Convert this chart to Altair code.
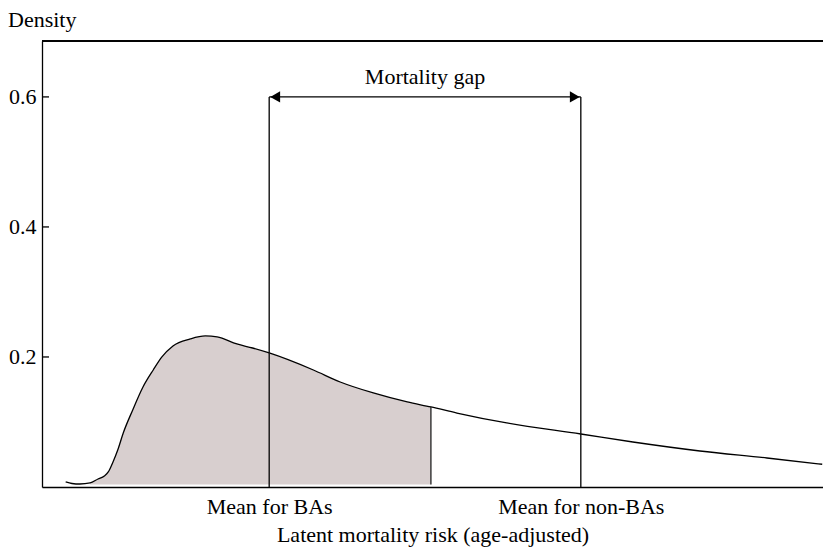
import altair as alt
import pandas as pd

# Density curve (arbitrary x units across the plot)
curve_x = [0.30, 0.38, 0.48, 0.61, 0.71, 0.79, 0.84, 0.90, 0.96, 1.03, 1.15, 1.28,
           1.41, 1.52, 1.66, 1.88, 2.07, 2.22, 2.47, 2.67, 2.88, 3.44, 3.78, 4.20,
           4.63, 4.93, 5.26, 5.89, 6.83, 7.49, 8.34, 9.19, 9.89]
curve_y = [0.0077, 0.0054, 0.0046, 0.0062, 0.0123, 0.0169, 0.0231, 0.0385, 0.0569,
           0.0831, 0.1185, 0.1538, 0.180, 0.200, 0.2169, 0.2277, 0.2323, 0.2308,
           0.220, 0.2138, 0.2062, 0.180, 0.1615, 0.1446, 0.1308, 0.1231, 0.1138,
           0.0985, 0.0815, 0.0692, 0.0554, 0.0446, 0.0350]

shade_start = 0.61
shade_end = 4.93
shade_base = 0.004

ba_mean = 2.88
nonba_mean = 6.83
gap_level = 0.6
mean_labels = ["Mean for BAs", "Mean for non-BAs"]
gap_label = "Mortality gap"
y_ticks = [0.2, 0.4, 0.6]
y_title = "Density"
x_title = "Latent mortality risk (age-adjusted)"

FONT = "Liberation Serif"
FS = 22
INK = "#000000"

W, H = 781, 446

curve = pd.DataFrame({"x": curve_x, "y": curve_y})
shade = curve[(curve.x >= shade_start) & (curve.x <= shade_end)].copy()
shade["base"] = shade_base
edge = pd.DataFrame({"x": [shade_end], "y": [shade_base],
                     "y2": [curve_y[curve_x.index(shade_end)]]})
means = pd.DataFrame({"x": [ba_mean, nonba_mean], "label": mean_labels,
                      "y0": [0.0, 0.0], "y1": [gap_level, gap_level]})
gap = pd.DataFrame({"x": [ba_mean], "x2": [nonba_mean], "y": [gap_level],
                    "xm": [(ba_mean + nonba_mean) / 2], "ty": [0.631],
                    "label": [gap_label]})
ticks = pd.DataFrame({"y": y_ticks})

xs = alt.Scale(domain=[0, 9.9], nice=False, zero=False)
ys = alt.Scale(domain=[0, 0.686], nice=False, zero=False)

label_expr = f"datum.value < 5 ? '{mean_labels[0]}' : '{mean_labels[1]}'"

AX = alt.Axis(
    values=[ba_mean, nonba_mean], labelExpr=label_expr, ticks=False,
    grid=False, labelPadding=9, labelFont=FONT, labelFontSize=FS,
    labelColor=INK, title=x_title, titleFont=FONT, titleFontSize=FS,
    titleFontWeight="normal", titleColor=INK, titlePadding=7,
    domainColor=INK, domainWidth=1.3, labelFlush=False)
AY = alt.Axis(
    values=y_ticks, ticks=False, grid=False, labelPadding=6,
    labelFont=FONT, labelFontSize=FS, labelColor=INK, title=None,
    domainColor=INK, domainWidth=1.3, labelFlush=False,
    labelExpr="format(datum.value, '.1f')")


def X(f):
    return alt.X(f, scale=xs, axis=AX, title=x_title)


def Y(f):
    return alt.Y(f, scale=ys, axis=AY, title=None)


area = alt.Chart(shade).mark_area(color="#d8cfcf", interpolate="monotone").encode(
    x=X("x:Q"), y=Y("y:Q"), y2="base:Q",
)

line = alt.Chart(curve).mark_line(color=INK, strokeWidth=1.3,
                                  interpolate="monotone").encode(
    x=X("x:Q"), y=Y("y:Q"),
)

edge_rule = alt.Chart(edge).mark_rule(color="#222222", strokeWidth=1.3).encode(
    x=X("x:Q"), y=Y("y:Q"), y2="y2:Q",
)

mean_rules = alt.Chart(means).mark_rule(color="#111111", strokeWidth=1.4).encode(
    x=X("x:Q"), y=Y("y0:Q"), y2="y1:Q",
)

gap_rule = alt.Chart(gap).mark_rule(color=INK, strokeWidth=1.3).encode(
    x=X("x:Q"), x2="x2:Q", y=Y("y:Q"),
)

head_l = alt.Chart(gap).mark_point(shape="triangle-left", filled=True, color=INK,
                                   size=130, opacity=1, xOffset=6).encode(
    x=X("x:Q"), y=Y("y:Q"),
)
head_r = alt.Chart(gap).mark_point(shape="triangle-right", filled=True, color=INK,
                                   size=130, opacity=1, xOffset=-6).encode(
    x=X("x2:Q"), y=Y("y:Q"),
)

gap_text = alt.Chart(gap).mark_text(font=FONT, fontSize=FS, color=INK,
                                    baseline="middle", align="center").encode(
    x=X("xm:Q"), y=Y("ty:Q"), text="label:N",
)

tick_rules = alt.Chart(ticks).mark_rule(color=INK, strokeWidth=1.3).encode(
    y=Y("y:Q"), x=alt.value(0), x2=alt.value(7),
)

top_border = alt.Chart(ticks).mark_rule(color=INK, strokeWidth=1.3).encode(
    y=alt.value(0), x=alt.value(0), x2=alt.value(W),
)

density_title = alt.Chart(pd.DataFrame({"t": [y_title]})).mark_text(
    font=FONT, fontSize=FS, color=INK, align="left", baseline="middle").encode(
    x=alt.value(-34), y=alt.value(-21), text="t:N")

chart = alt.layer(
    area, line, edge_rule, mean_rules, gap_rule, head_l, head_r, gap_text,
    tick_rules, top_border, density_title,
).properties(
    width=W, height=H,
    autosize=alt.AutoSizeParams(type="none"),
    padding={"left": 34, "top": 33, "right": 0, "bottom": 61},
).configure_view(stroke=None).configure(background="white")

chart.save("out.html", embed_options={"renderer": "svg", "actions": False})
